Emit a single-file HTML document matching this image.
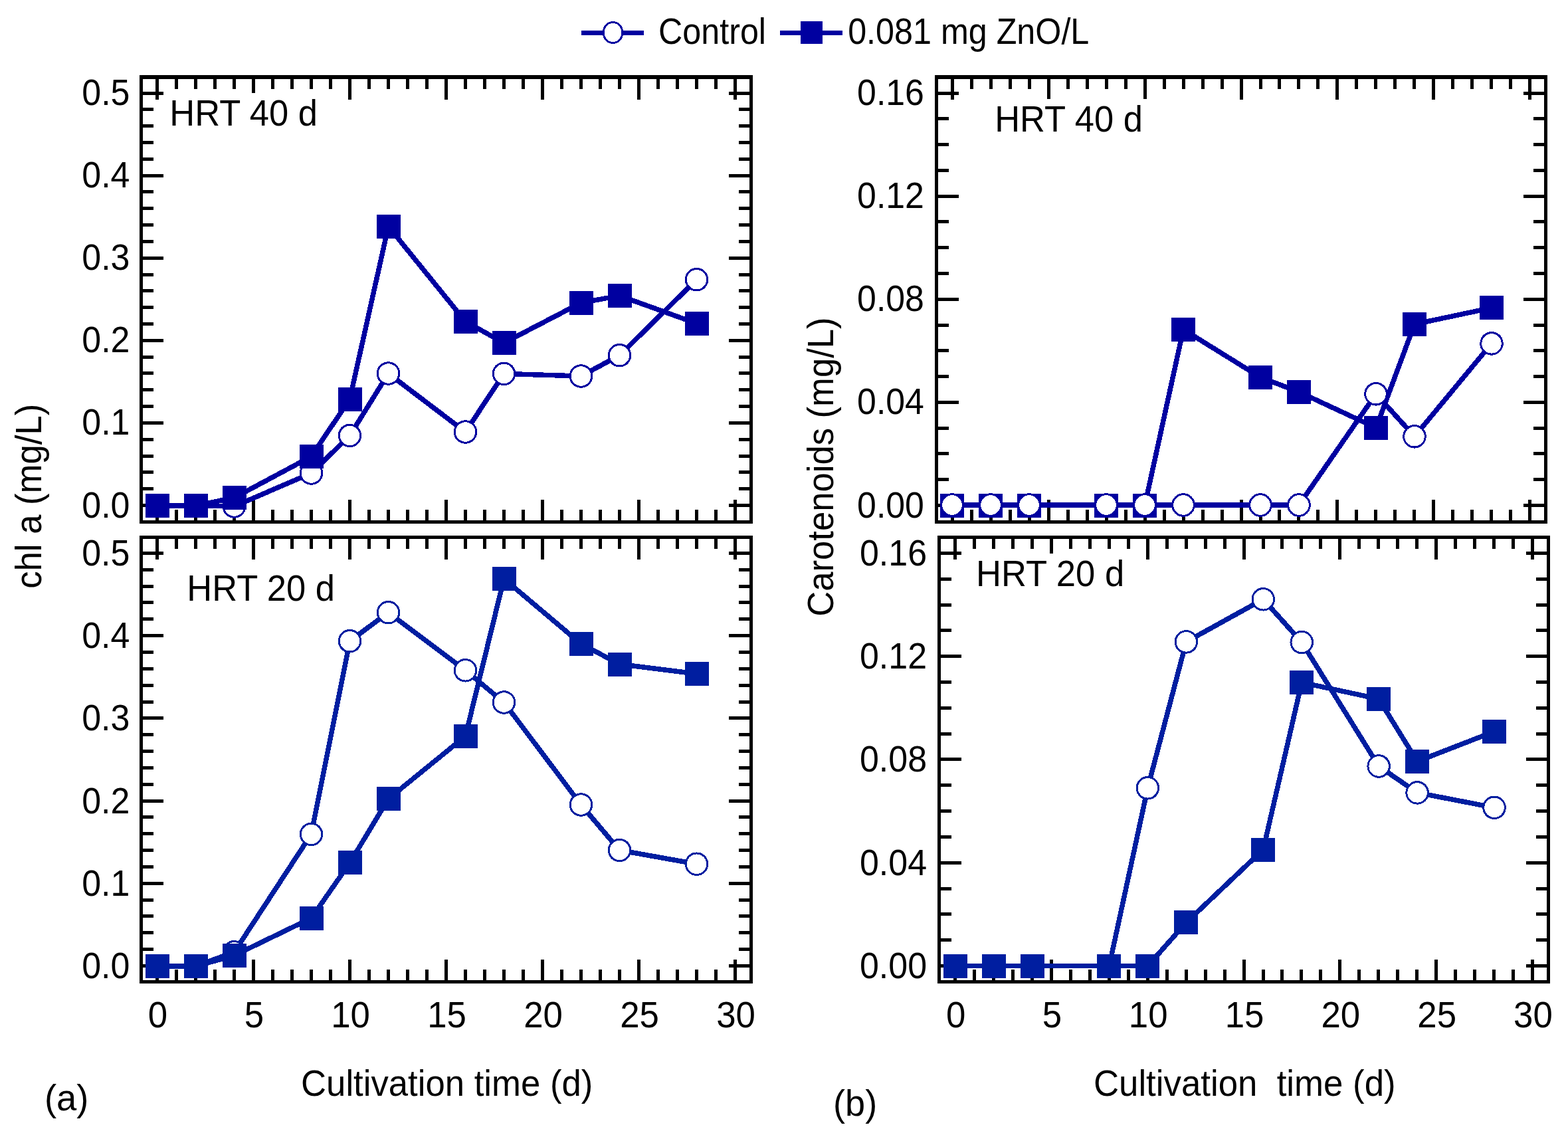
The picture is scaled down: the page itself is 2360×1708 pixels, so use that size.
<!DOCTYPE html>
<html><head><meta charset="utf-8"><title>Chlorophyll a and carotenoids</title>
<style>html,body{margin:0;padding:0;background:#fff;width:2360px;height:1708px;overflow:hidden}
svg{display:block} text{font-family:"Liberation Sans",Arial,sans-serif;fill:#000}</style></head>
<body><svg width="2360" height="1708" viewBox="0 0 2360 1708" shape-rendering="crispEdges">
<rect width="2360" height="1708" fill="#fff"/>
<rect x="210.00" y="113.00" width="923.00" height="6.00" fill="#000"/>
<rect x="210.00" y="783.00" width="923.00" height="5.00" fill="#000"/>
<rect x="210.00" y="113.00" width="5.00" height="675.00" fill="#000"/>
<rect x="1128.00" y="113.00" width="5.00" height="675.00" fill="#000"/>
<rect x="234.00" y="119.00" width="5.00" height="31.00" fill="#000"/>
<rect x="234.00" y="752.00" width="5.00" height="31.00" fill="#000"/>
<rect x="263.00" y="119.00" width="5.00" height="15.00" fill="#000"/>
<rect x="263.00" y="767.00" width="5.00" height="16.00" fill="#000"/>
<rect x="292.00" y="119.00" width="5.00" height="15.00" fill="#000"/>
<rect x="292.00" y="767.00" width="5.00" height="16.00" fill="#000"/>
<rect x="321.00" y="119.00" width="5.00" height="15.00" fill="#000"/>
<rect x="321.00" y="767.00" width="5.00" height="16.00" fill="#000"/>
<rect x="350.00" y="119.00" width="5.00" height="15.00" fill="#000"/>
<rect x="350.00" y="767.00" width="5.00" height="16.00" fill="#000"/>
<rect x="379.00" y="119.00" width="5.00" height="31.00" fill="#000"/>
<rect x="379.00" y="752.00" width="5.00" height="31.00" fill="#000"/>
<rect x="408.00" y="119.00" width="5.00" height="15.00" fill="#000"/>
<rect x="408.00" y="767.00" width="5.00" height="16.00" fill="#000"/>
<rect x="437.00" y="119.00" width="5.00" height="15.00" fill="#000"/>
<rect x="437.00" y="767.00" width="5.00" height="16.00" fill="#000"/>
<rect x="466.00" y="119.00" width="5.00" height="15.00" fill="#000"/>
<rect x="466.00" y="767.00" width="5.00" height="16.00" fill="#000"/>
<rect x="495.00" y="119.00" width="5.00" height="15.00" fill="#000"/>
<rect x="495.00" y="767.00" width="5.00" height="16.00" fill="#000"/>
<rect x="524.00" y="119.00" width="5.00" height="31.00" fill="#000"/>
<rect x="524.00" y="752.00" width="5.00" height="31.00" fill="#000"/>
<rect x="553.00" y="119.00" width="5.00" height="15.00" fill="#000"/>
<rect x="553.00" y="767.00" width="5.00" height="16.00" fill="#000"/>
<rect x="582.00" y="119.00" width="5.00" height="15.00" fill="#000"/>
<rect x="582.00" y="767.00" width="5.00" height="16.00" fill="#000"/>
<rect x="611.00" y="119.00" width="5.00" height="15.00" fill="#000"/>
<rect x="611.00" y="767.00" width="5.00" height="16.00" fill="#000"/>
<rect x="640.00" y="119.00" width="5.00" height="15.00" fill="#000"/>
<rect x="640.00" y="767.00" width="5.00" height="16.00" fill="#000"/>
<rect x="669.00" y="119.00" width="5.00" height="31.00" fill="#000"/>
<rect x="669.00" y="752.00" width="5.00" height="31.00" fill="#000"/>
<rect x="698.00" y="119.00" width="5.00" height="15.00" fill="#000"/>
<rect x="698.00" y="767.00" width="5.00" height="16.00" fill="#000"/>
<rect x="727.00" y="119.00" width="5.00" height="15.00" fill="#000"/>
<rect x="727.00" y="767.00" width="5.00" height="16.00" fill="#000"/>
<rect x="756.00" y="119.00" width="5.00" height="15.00" fill="#000"/>
<rect x="756.00" y="767.00" width="5.00" height="16.00" fill="#000"/>
<rect x="785.00" y="119.00" width="5.00" height="15.00" fill="#000"/>
<rect x="785.00" y="767.00" width="5.00" height="16.00" fill="#000"/>
<rect x="814.00" y="119.00" width="5.00" height="31.00" fill="#000"/>
<rect x="814.00" y="752.00" width="5.00" height="31.00" fill="#000"/>
<rect x="843.00" y="119.00" width="5.00" height="15.00" fill="#000"/>
<rect x="843.00" y="767.00" width="5.00" height="16.00" fill="#000"/>
<rect x="872.00" y="119.00" width="5.00" height="15.00" fill="#000"/>
<rect x="872.00" y="767.00" width="5.00" height="16.00" fill="#000"/>
<rect x="901.00" y="119.00" width="5.00" height="15.00" fill="#000"/>
<rect x="901.00" y="767.00" width="5.00" height="16.00" fill="#000"/>
<rect x="930.00" y="119.00" width="5.00" height="15.00" fill="#000"/>
<rect x="930.00" y="767.00" width="5.00" height="16.00" fill="#000"/>
<rect x="959.00" y="119.00" width="5.00" height="31.00" fill="#000"/>
<rect x="959.00" y="752.00" width="5.00" height="31.00" fill="#000"/>
<rect x="988.00" y="119.00" width="5.00" height="15.00" fill="#000"/>
<rect x="988.00" y="767.00" width="5.00" height="16.00" fill="#000"/>
<rect x="1017.00" y="119.00" width="5.00" height="15.00" fill="#000"/>
<rect x="1017.00" y="767.00" width="5.00" height="16.00" fill="#000"/>
<rect x="1046.00" y="119.00" width="5.00" height="15.00" fill="#000"/>
<rect x="1046.00" y="767.00" width="5.00" height="16.00" fill="#000"/>
<rect x="1075.00" y="119.00" width="5.00" height="15.00" fill="#000"/>
<rect x="1075.00" y="767.00" width="5.00" height="16.00" fill="#000"/>
<rect x="1104.00" y="119.00" width="5.00" height="31.00" fill="#000"/>
<rect x="1104.00" y="752.00" width="5.00" height="31.00" fill="#000"/>
<rect x="215.00" y="758.00" width="31.00" height="5.00" fill="#000"/>
<rect x="1097.00" y="758.00" width="31.00" height="5.00" fill="#000"/>
<rect x="215.00" y="733.18" width="16.00" height="5.00" fill="#000"/>
<rect x="1112.00" y="733.18" width="16.00" height="5.00" fill="#000"/>
<rect x="215.00" y="708.36" width="16.00" height="5.00" fill="#000"/>
<rect x="1112.00" y="708.36" width="16.00" height="5.00" fill="#000"/>
<rect x="215.00" y="683.54" width="16.00" height="5.00" fill="#000"/>
<rect x="1112.00" y="683.54" width="16.00" height="5.00" fill="#000"/>
<rect x="215.00" y="658.72" width="16.00" height="5.00" fill="#000"/>
<rect x="1112.00" y="658.72" width="16.00" height="5.00" fill="#000"/>
<rect x="215.00" y="633.90" width="31.00" height="5.00" fill="#000"/>
<rect x="1097.00" y="633.90" width="31.00" height="5.00" fill="#000"/>
<rect x="215.00" y="609.08" width="16.00" height="5.00" fill="#000"/>
<rect x="1112.00" y="609.08" width="16.00" height="5.00" fill="#000"/>
<rect x="215.00" y="584.26" width="16.00" height="5.00" fill="#000"/>
<rect x="1112.00" y="584.26" width="16.00" height="5.00" fill="#000"/>
<rect x="215.00" y="559.44" width="16.00" height="5.00" fill="#000"/>
<rect x="1112.00" y="559.44" width="16.00" height="5.00" fill="#000"/>
<rect x="215.00" y="534.62" width="16.00" height="5.00" fill="#000"/>
<rect x="1112.00" y="534.62" width="16.00" height="5.00" fill="#000"/>
<rect x="215.00" y="509.80" width="31.00" height="5.00" fill="#000"/>
<rect x="1097.00" y="509.80" width="31.00" height="5.00" fill="#000"/>
<rect x="215.00" y="484.98" width="16.00" height="5.00" fill="#000"/>
<rect x="1112.00" y="484.98" width="16.00" height="5.00" fill="#000"/>
<rect x="215.00" y="460.16" width="16.00" height="5.00" fill="#000"/>
<rect x="1112.00" y="460.16" width="16.00" height="5.00" fill="#000"/>
<rect x="215.00" y="435.34" width="16.00" height="5.00" fill="#000"/>
<rect x="1112.00" y="435.34" width="16.00" height="5.00" fill="#000"/>
<rect x="215.00" y="410.52" width="16.00" height="5.00" fill="#000"/>
<rect x="1112.00" y="410.52" width="16.00" height="5.00" fill="#000"/>
<rect x="215.00" y="385.70" width="31.00" height="5.00" fill="#000"/>
<rect x="1097.00" y="385.70" width="31.00" height="5.00" fill="#000"/>
<rect x="215.00" y="360.88" width="16.00" height="5.00" fill="#000"/>
<rect x="1112.00" y="360.88" width="16.00" height="5.00" fill="#000"/>
<rect x="215.00" y="336.06" width="16.00" height="5.00" fill="#000"/>
<rect x="1112.00" y="336.06" width="16.00" height="5.00" fill="#000"/>
<rect x="215.00" y="311.24" width="16.00" height="5.00" fill="#000"/>
<rect x="1112.00" y="311.24" width="16.00" height="5.00" fill="#000"/>
<rect x="215.00" y="286.42" width="16.00" height="5.00" fill="#000"/>
<rect x="1112.00" y="286.42" width="16.00" height="5.00" fill="#000"/>
<rect x="215.00" y="261.60" width="31.00" height="5.00" fill="#000"/>
<rect x="1097.00" y="261.60" width="31.00" height="5.00" fill="#000"/>
<rect x="215.00" y="236.78" width="16.00" height="5.00" fill="#000"/>
<rect x="1112.00" y="236.78" width="16.00" height="5.00" fill="#000"/>
<rect x="215.00" y="211.96" width="16.00" height="5.00" fill="#000"/>
<rect x="1112.00" y="211.96" width="16.00" height="5.00" fill="#000"/>
<rect x="215.00" y="187.14" width="16.00" height="5.00" fill="#000"/>
<rect x="1112.00" y="187.14" width="16.00" height="5.00" fill="#000"/>
<rect x="215.00" y="162.32" width="16.00" height="5.00" fill="#000"/>
<rect x="1112.00" y="162.32" width="16.00" height="5.00" fill="#000"/>
<rect x="215.00" y="137.50" width="31.00" height="5.00" fill="#000"/>
<rect x="1097.00" y="137.50" width="31.00" height="5.00" fill="#000"/>
<rect x="210.00" y="806.00" width="923.00" height="5.00" fill="#000"/>
<rect x="210.00" y="1475.00" width="923.00" height="5.00" fill="#000"/>
<rect x="210.00" y="806.00" width="5.00" height="674.00" fill="#000"/>
<rect x="1128.00" y="806.00" width="5.00" height="674.00" fill="#000"/>
<rect x="234.00" y="811.00" width="5.00" height="31.00" fill="#000"/>
<rect x="234.00" y="1444.00" width="5.00" height="31.00" fill="#000"/>
<rect x="263.00" y="811.00" width="5.00" height="15.00" fill="#000"/>
<rect x="263.00" y="1459.00" width="5.00" height="16.00" fill="#000"/>
<rect x="292.00" y="811.00" width="5.00" height="15.00" fill="#000"/>
<rect x="292.00" y="1459.00" width="5.00" height="16.00" fill="#000"/>
<rect x="321.00" y="811.00" width="5.00" height="15.00" fill="#000"/>
<rect x="321.00" y="1459.00" width="5.00" height="16.00" fill="#000"/>
<rect x="350.00" y="811.00" width="5.00" height="15.00" fill="#000"/>
<rect x="350.00" y="1459.00" width="5.00" height="16.00" fill="#000"/>
<rect x="379.00" y="811.00" width="5.00" height="31.00" fill="#000"/>
<rect x="379.00" y="1444.00" width="5.00" height="31.00" fill="#000"/>
<rect x="408.00" y="811.00" width="5.00" height="15.00" fill="#000"/>
<rect x="408.00" y="1459.00" width="5.00" height="16.00" fill="#000"/>
<rect x="437.00" y="811.00" width="5.00" height="15.00" fill="#000"/>
<rect x="437.00" y="1459.00" width="5.00" height="16.00" fill="#000"/>
<rect x="466.00" y="811.00" width="5.00" height="15.00" fill="#000"/>
<rect x="466.00" y="1459.00" width="5.00" height="16.00" fill="#000"/>
<rect x="495.00" y="811.00" width="5.00" height="15.00" fill="#000"/>
<rect x="495.00" y="1459.00" width="5.00" height="16.00" fill="#000"/>
<rect x="524.00" y="811.00" width="5.00" height="31.00" fill="#000"/>
<rect x="524.00" y="1444.00" width="5.00" height="31.00" fill="#000"/>
<rect x="553.00" y="811.00" width="5.00" height="15.00" fill="#000"/>
<rect x="553.00" y="1459.00" width="5.00" height="16.00" fill="#000"/>
<rect x="582.00" y="811.00" width="5.00" height="15.00" fill="#000"/>
<rect x="582.00" y="1459.00" width="5.00" height="16.00" fill="#000"/>
<rect x="611.00" y="811.00" width="5.00" height="15.00" fill="#000"/>
<rect x="611.00" y="1459.00" width="5.00" height="16.00" fill="#000"/>
<rect x="640.00" y="811.00" width="5.00" height="15.00" fill="#000"/>
<rect x="640.00" y="1459.00" width="5.00" height="16.00" fill="#000"/>
<rect x="669.00" y="811.00" width="5.00" height="31.00" fill="#000"/>
<rect x="669.00" y="1444.00" width="5.00" height="31.00" fill="#000"/>
<rect x="698.00" y="811.00" width="5.00" height="15.00" fill="#000"/>
<rect x="698.00" y="1459.00" width="5.00" height="16.00" fill="#000"/>
<rect x="727.00" y="811.00" width="5.00" height="15.00" fill="#000"/>
<rect x="727.00" y="1459.00" width="5.00" height="16.00" fill="#000"/>
<rect x="756.00" y="811.00" width="5.00" height="15.00" fill="#000"/>
<rect x="756.00" y="1459.00" width="5.00" height="16.00" fill="#000"/>
<rect x="785.00" y="811.00" width="5.00" height="15.00" fill="#000"/>
<rect x="785.00" y="1459.00" width="5.00" height="16.00" fill="#000"/>
<rect x="814.00" y="811.00" width="5.00" height="31.00" fill="#000"/>
<rect x="814.00" y="1444.00" width="5.00" height="31.00" fill="#000"/>
<rect x="843.00" y="811.00" width="5.00" height="15.00" fill="#000"/>
<rect x="843.00" y="1459.00" width="5.00" height="16.00" fill="#000"/>
<rect x="872.00" y="811.00" width="5.00" height="15.00" fill="#000"/>
<rect x="872.00" y="1459.00" width="5.00" height="16.00" fill="#000"/>
<rect x="901.00" y="811.00" width="5.00" height="15.00" fill="#000"/>
<rect x="901.00" y="1459.00" width="5.00" height="16.00" fill="#000"/>
<rect x="930.00" y="811.00" width="5.00" height="15.00" fill="#000"/>
<rect x="930.00" y="1459.00" width="5.00" height="16.00" fill="#000"/>
<rect x="959.00" y="811.00" width="5.00" height="31.00" fill="#000"/>
<rect x="959.00" y="1444.00" width="5.00" height="31.00" fill="#000"/>
<rect x="988.00" y="811.00" width="5.00" height="15.00" fill="#000"/>
<rect x="988.00" y="1459.00" width="5.00" height="16.00" fill="#000"/>
<rect x="1017.00" y="811.00" width="5.00" height="15.00" fill="#000"/>
<rect x="1017.00" y="1459.00" width="5.00" height="16.00" fill="#000"/>
<rect x="1046.00" y="811.00" width="5.00" height="15.00" fill="#000"/>
<rect x="1046.00" y="1459.00" width="5.00" height="16.00" fill="#000"/>
<rect x="1075.00" y="811.00" width="5.00" height="15.00" fill="#000"/>
<rect x="1075.00" y="1459.00" width="5.00" height="16.00" fill="#000"/>
<rect x="1104.00" y="811.00" width="5.00" height="31.00" fill="#000"/>
<rect x="1104.00" y="1444.00" width="5.00" height="31.00" fill="#000"/>
<rect x="215.00" y="1451.00" width="31.00" height="5.00" fill="#000"/>
<rect x="1097.00" y="1451.00" width="31.00" height="5.00" fill="#000"/>
<rect x="215.00" y="1426.16" width="16.00" height="5.00" fill="#000"/>
<rect x="1112.00" y="1426.16" width="16.00" height="5.00" fill="#000"/>
<rect x="215.00" y="1401.31" width="16.00" height="5.00" fill="#000"/>
<rect x="1112.00" y="1401.31" width="16.00" height="5.00" fill="#000"/>
<rect x="215.00" y="1376.47" width="16.00" height="5.00" fill="#000"/>
<rect x="1112.00" y="1376.47" width="16.00" height="5.00" fill="#000"/>
<rect x="215.00" y="1351.62" width="16.00" height="5.00" fill="#000"/>
<rect x="1112.00" y="1351.62" width="16.00" height="5.00" fill="#000"/>
<rect x="215.00" y="1326.78" width="31.00" height="5.00" fill="#000"/>
<rect x="1097.00" y="1326.78" width="31.00" height="5.00" fill="#000"/>
<rect x="215.00" y="1301.94" width="16.00" height="5.00" fill="#000"/>
<rect x="1112.00" y="1301.94" width="16.00" height="5.00" fill="#000"/>
<rect x="215.00" y="1277.09" width="16.00" height="5.00" fill="#000"/>
<rect x="1112.00" y="1277.09" width="16.00" height="5.00" fill="#000"/>
<rect x="215.00" y="1252.25" width="16.00" height="5.00" fill="#000"/>
<rect x="1112.00" y="1252.25" width="16.00" height="5.00" fill="#000"/>
<rect x="215.00" y="1227.40" width="16.00" height="5.00" fill="#000"/>
<rect x="1112.00" y="1227.40" width="16.00" height="5.00" fill="#000"/>
<rect x="215.00" y="1202.56" width="31.00" height="5.00" fill="#000"/>
<rect x="1097.00" y="1202.56" width="31.00" height="5.00" fill="#000"/>
<rect x="215.00" y="1177.72" width="16.00" height="5.00" fill="#000"/>
<rect x="1112.00" y="1177.72" width="16.00" height="5.00" fill="#000"/>
<rect x="215.00" y="1152.87" width="16.00" height="5.00" fill="#000"/>
<rect x="1112.00" y="1152.87" width="16.00" height="5.00" fill="#000"/>
<rect x="215.00" y="1128.03" width="16.00" height="5.00" fill="#000"/>
<rect x="1112.00" y="1128.03" width="16.00" height="5.00" fill="#000"/>
<rect x="215.00" y="1103.18" width="16.00" height="5.00" fill="#000"/>
<rect x="1112.00" y="1103.18" width="16.00" height="5.00" fill="#000"/>
<rect x="215.00" y="1078.34" width="31.00" height="5.00" fill="#000"/>
<rect x="1097.00" y="1078.34" width="31.00" height="5.00" fill="#000"/>
<rect x="215.00" y="1053.50" width="16.00" height="5.00" fill="#000"/>
<rect x="1112.00" y="1053.50" width="16.00" height="5.00" fill="#000"/>
<rect x="215.00" y="1028.65" width="16.00" height="5.00" fill="#000"/>
<rect x="1112.00" y="1028.65" width="16.00" height="5.00" fill="#000"/>
<rect x="215.00" y="1003.81" width="16.00" height="5.00" fill="#000"/>
<rect x="1112.00" y="1003.81" width="16.00" height="5.00" fill="#000"/>
<rect x="215.00" y="978.96" width="16.00" height="5.00" fill="#000"/>
<rect x="1112.00" y="978.96" width="16.00" height="5.00" fill="#000"/>
<rect x="215.00" y="954.12" width="31.00" height="5.00" fill="#000"/>
<rect x="1097.00" y="954.12" width="31.00" height="5.00" fill="#000"/>
<rect x="215.00" y="929.28" width="16.00" height="5.00" fill="#000"/>
<rect x="1112.00" y="929.28" width="16.00" height="5.00" fill="#000"/>
<rect x="215.00" y="904.43" width="16.00" height="5.00" fill="#000"/>
<rect x="1112.00" y="904.43" width="16.00" height="5.00" fill="#000"/>
<rect x="215.00" y="879.59" width="16.00" height="5.00" fill="#000"/>
<rect x="1112.00" y="879.59" width="16.00" height="5.00" fill="#000"/>
<rect x="215.00" y="854.74" width="16.00" height="5.00" fill="#000"/>
<rect x="1112.00" y="854.74" width="16.00" height="5.00" fill="#000"/>
<rect x="215.00" y="829.90" width="31.00" height="5.00" fill="#000"/>
<rect x="1097.00" y="829.90" width="31.00" height="5.00" fill="#000"/>
<rect x="1407.00" y="113.00" width="922.00" height="6.00" fill="#000"/>
<rect x="1407.00" y="783.00" width="922.00" height="5.00" fill="#000"/>
<rect x="1407.00" y="113.00" width="5.00" height="675.00" fill="#000"/>
<rect x="2324.00" y="113.00" width="5.00" height="675.00" fill="#000"/>
<rect x="1431.00" y="119.00" width="5.00" height="31.00" fill="#000"/>
<rect x="1431.00" y="752.00" width="5.00" height="31.00" fill="#000"/>
<rect x="1459.97" y="119.00" width="5.00" height="15.00" fill="#000"/>
<rect x="1459.97" y="767.00" width="5.00" height="16.00" fill="#000"/>
<rect x="1488.94" y="119.00" width="5.00" height="15.00" fill="#000"/>
<rect x="1488.94" y="767.00" width="5.00" height="16.00" fill="#000"/>
<rect x="1517.91" y="119.00" width="5.00" height="15.00" fill="#000"/>
<rect x="1517.91" y="767.00" width="5.00" height="16.00" fill="#000"/>
<rect x="1546.88" y="119.00" width="5.00" height="15.00" fill="#000"/>
<rect x="1546.88" y="767.00" width="5.00" height="16.00" fill="#000"/>
<rect x="1575.85" y="119.00" width="5.00" height="31.00" fill="#000"/>
<rect x="1575.85" y="752.00" width="5.00" height="31.00" fill="#000"/>
<rect x="1604.82" y="119.00" width="5.00" height="15.00" fill="#000"/>
<rect x="1604.82" y="767.00" width="5.00" height="16.00" fill="#000"/>
<rect x="1633.79" y="119.00" width="5.00" height="15.00" fill="#000"/>
<rect x="1633.79" y="767.00" width="5.00" height="16.00" fill="#000"/>
<rect x="1662.76" y="119.00" width="5.00" height="15.00" fill="#000"/>
<rect x="1662.76" y="767.00" width="5.00" height="16.00" fill="#000"/>
<rect x="1691.73" y="119.00" width="5.00" height="15.00" fill="#000"/>
<rect x="1691.73" y="767.00" width="5.00" height="16.00" fill="#000"/>
<rect x="1720.70" y="119.00" width="5.00" height="31.00" fill="#000"/>
<rect x="1720.70" y="752.00" width="5.00" height="31.00" fill="#000"/>
<rect x="1749.67" y="119.00" width="5.00" height="15.00" fill="#000"/>
<rect x="1749.67" y="767.00" width="5.00" height="16.00" fill="#000"/>
<rect x="1778.64" y="119.00" width="5.00" height="15.00" fill="#000"/>
<rect x="1778.64" y="767.00" width="5.00" height="16.00" fill="#000"/>
<rect x="1807.61" y="119.00" width="5.00" height="15.00" fill="#000"/>
<rect x="1807.61" y="767.00" width="5.00" height="16.00" fill="#000"/>
<rect x="1836.58" y="119.00" width="5.00" height="15.00" fill="#000"/>
<rect x="1836.58" y="767.00" width="5.00" height="16.00" fill="#000"/>
<rect x="1865.55" y="119.00" width="5.00" height="31.00" fill="#000"/>
<rect x="1865.55" y="752.00" width="5.00" height="31.00" fill="#000"/>
<rect x="1894.52" y="119.00" width="5.00" height="15.00" fill="#000"/>
<rect x="1894.52" y="767.00" width="5.00" height="16.00" fill="#000"/>
<rect x="1923.49" y="119.00" width="5.00" height="15.00" fill="#000"/>
<rect x="1923.49" y="767.00" width="5.00" height="16.00" fill="#000"/>
<rect x="1952.46" y="119.00" width="5.00" height="15.00" fill="#000"/>
<rect x="1952.46" y="767.00" width="5.00" height="16.00" fill="#000"/>
<rect x="1981.43" y="119.00" width="5.00" height="15.00" fill="#000"/>
<rect x="1981.43" y="767.00" width="5.00" height="16.00" fill="#000"/>
<rect x="2010.40" y="119.00" width="5.00" height="31.00" fill="#000"/>
<rect x="2010.40" y="752.00" width="5.00" height="31.00" fill="#000"/>
<rect x="2039.37" y="119.00" width="5.00" height="15.00" fill="#000"/>
<rect x="2039.37" y="767.00" width="5.00" height="16.00" fill="#000"/>
<rect x="2068.34" y="119.00" width="5.00" height="15.00" fill="#000"/>
<rect x="2068.34" y="767.00" width="5.00" height="16.00" fill="#000"/>
<rect x="2097.31" y="119.00" width="5.00" height="15.00" fill="#000"/>
<rect x="2097.31" y="767.00" width="5.00" height="16.00" fill="#000"/>
<rect x="2126.28" y="119.00" width="5.00" height="15.00" fill="#000"/>
<rect x="2126.28" y="767.00" width="5.00" height="16.00" fill="#000"/>
<rect x="2155.25" y="119.00" width="5.00" height="31.00" fill="#000"/>
<rect x="2155.25" y="752.00" width="5.00" height="31.00" fill="#000"/>
<rect x="2184.22" y="119.00" width="5.00" height="15.00" fill="#000"/>
<rect x="2184.22" y="767.00" width="5.00" height="16.00" fill="#000"/>
<rect x="2213.19" y="119.00" width="5.00" height="15.00" fill="#000"/>
<rect x="2213.19" y="767.00" width="5.00" height="16.00" fill="#000"/>
<rect x="2242.16" y="119.00" width="5.00" height="15.00" fill="#000"/>
<rect x="2242.16" y="767.00" width="5.00" height="16.00" fill="#000"/>
<rect x="2271.13" y="119.00" width="5.00" height="15.00" fill="#000"/>
<rect x="2271.13" y="767.00" width="5.00" height="16.00" fill="#000"/>
<rect x="2300.10" y="119.00" width="5.00" height="31.00" fill="#000"/>
<rect x="2300.10" y="752.00" width="5.00" height="31.00" fill="#000"/>
<rect x="1412.00" y="758.00" width="31.00" height="5.00" fill="#000"/>
<rect x="2293.00" y="758.00" width="31.00" height="5.00" fill="#000"/>
<rect x="1412.00" y="719.22" width="16.00" height="5.00" fill="#000"/>
<rect x="2308.00" y="719.22" width="16.00" height="5.00" fill="#000"/>
<rect x="1412.00" y="680.44" width="16.00" height="5.00" fill="#000"/>
<rect x="2308.00" y="680.44" width="16.00" height="5.00" fill="#000"/>
<rect x="1412.00" y="641.66" width="16.00" height="5.00" fill="#000"/>
<rect x="2308.00" y="641.66" width="16.00" height="5.00" fill="#000"/>
<rect x="1412.00" y="602.88" width="31.00" height="5.00" fill="#000"/>
<rect x="2293.00" y="602.88" width="31.00" height="5.00" fill="#000"/>
<rect x="1412.00" y="564.10" width="16.00" height="5.00" fill="#000"/>
<rect x="2308.00" y="564.10" width="16.00" height="5.00" fill="#000"/>
<rect x="1412.00" y="525.32" width="16.00" height="5.00" fill="#000"/>
<rect x="2308.00" y="525.32" width="16.00" height="5.00" fill="#000"/>
<rect x="1412.00" y="486.54" width="16.00" height="5.00" fill="#000"/>
<rect x="2308.00" y="486.54" width="16.00" height="5.00" fill="#000"/>
<rect x="1412.00" y="447.76" width="31.00" height="5.00" fill="#000"/>
<rect x="2293.00" y="447.76" width="31.00" height="5.00" fill="#000"/>
<rect x="1412.00" y="408.98" width="16.00" height="5.00" fill="#000"/>
<rect x="2308.00" y="408.98" width="16.00" height="5.00" fill="#000"/>
<rect x="1412.00" y="370.20" width="16.00" height="5.00" fill="#000"/>
<rect x="2308.00" y="370.20" width="16.00" height="5.00" fill="#000"/>
<rect x="1412.00" y="331.42" width="16.00" height="5.00" fill="#000"/>
<rect x="2308.00" y="331.42" width="16.00" height="5.00" fill="#000"/>
<rect x="1412.00" y="292.64" width="31.00" height="5.00" fill="#000"/>
<rect x="2293.00" y="292.64" width="31.00" height="5.00" fill="#000"/>
<rect x="1412.00" y="253.86" width="16.00" height="5.00" fill="#000"/>
<rect x="2308.00" y="253.86" width="16.00" height="5.00" fill="#000"/>
<rect x="1412.00" y="215.08" width="16.00" height="5.00" fill="#000"/>
<rect x="2308.00" y="215.08" width="16.00" height="5.00" fill="#000"/>
<rect x="1412.00" y="176.30" width="16.00" height="5.00" fill="#000"/>
<rect x="2308.00" y="176.30" width="16.00" height="5.00" fill="#000"/>
<rect x="1412.00" y="137.52" width="31.00" height="5.00" fill="#000"/>
<rect x="2293.00" y="137.52" width="31.00" height="5.00" fill="#000"/>
<rect x="1411.00" y="806.00" width="922.00" height="5.00" fill="#000"/>
<rect x="1411.00" y="1475.00" width="922.00" height="5.00" fill="#000"/>
<rect x="1411.00" y="806.00" width="5.00" height="674.00" fill="#000"/>
<rect x="2328.00" y="806.00" width="5.00" height="674.00" fill="#000"/>
<rect x="1435.10" y="811.00" width="5.00" height="31.00" fill="#000"/>
<rect x="1435.10" y="1444.00" width="5.00" height="31.00" fill="#000"/>
<rect x="1464.06" y="811.00" width="5.00" height="15.00" fill="#000"/>
<rect x="1464.06" y="1459.00" width="5.00" height="16.00" fill="#000"/>
<rect x="1493.03" y="811.00" width="5.00" height="15.00" fill="#000"/>
<rect x="1493.03" y="1459.00" width="5.00" height="16.00" fill="#000"/>
<rect x="1521.99" y="811.00" width="5.00" height="15.00" fill="#000"/>
<rect x="1521.99" y="1459.00" width="5.00" height="16.00" fill="#000"/>
<rect x="1550.95" y="811.00" width="5.00" height="15.00" fill="#000"/>
<rect x="1550.95" y="1459.00" width="5.00" height="16.00" fill="#000"/>
<rect x="1579.91" y="811.00" width="5.00" height="31.00" fill="#000"/>
<rect x="1579.91" y="1444.00" width="5.00" height="31.00" fill="#000"/>
<rect x="1608.88" y="811.00" width="5.00" height="15.00" fill="#000"/>
<rect x="1608.88" y="1459.00" width="5.00" height="16.00" fill="#000"/>
<rect x="1637.84" y="811.00" width="5.00" height="15.00" fill="#000"/>
<rect x="1637.84" y="1459.00" width="5.00" height="16.00" fill="#000"/>
<rect x="1666.80" y="811.00" width="5.00" height="15.00" fill="#000"/>
<rect x="1666.80" y="1459.00" width="5.00" height="16.00" fill="#000"/>
<rect x="1695.77" y="811.00" width="5.00" height="15.00" fill="#000"/>
<rect x="1695.77" y="1459.00" width="5.00" height="16.00" fill="#000"/>
<rect x="1724.73" y="811.00" width="5.00" height="31.00" fill="#000"/>
<rect x="1724.73" y="1444.00" width="5.00" height="31.00" fill="#000"/>
<rect x="1753.69" y="811.00" width="5.00" height="15.00" fill="#000"/>
<rect x="1753.69" y="1459.00" width="5.00" height="16.00" fill="#000"/>
<rect x="1782.66" y="811.00" width="5.00" height="15.00" fill="#000"/>
<rect x="1782.66" y="1459.00" width="5.00" height="16.00" fill="#000"/>
<rect x="1811.62" y="811.00" width="5.00" height="15.00" fill="#000"/>
<rect x="1811.62" y="1459.00" width="5.00" height="16.00" fill="#000"/>
<rect x="1840.58" y="811.00" width="5.00" height="15.00" fill="#000"/>
<rect x="1840.58" y="1459.00" width="5.00" height="16.00" fill="#000"/>
<rect x="1869.54" y="811.00" width="5.00" height="31.00" fill="#000"/>
<rect x="1869.54" y="1444.00" width="5.00" height="31.00" fill="#000"/>
<rect x="1898.51" y="811.00" width="5.00" height="15.00" fill="#000"/>
<rect x="1898.51" y="1459.00" width="5.00" height="16.00" fill="#000"/>
<rect x="1927.47" y="811.00" width="5.00" height="15.00" fill="#000"/>
<rect x="1927.47" y="1459.00" width="5.00" height="16.00" fill="#000"/>
<rect x="1956.43" y="811.00" width="5.00" height="15.00" fill="#000"/>
<rect x="1956.43" y="1459.00" width="5.00" height="16.00" fill="#000"/>
<rect x="1985.40" y="811.00" width="5.00" height="15.00" fill="#000"/>
<rect x="1985.40" y="1459.00" width="5.00" height="16.00" fill="#000"/>
<rect x="2014.36" y="811.00" width="5.00" height="31.00" fill="#000"/>
<rect x="2014.36" y="1444.00" width="5.00" height="31.00" fill="#000"/>
<rect x="2043.32" y="811.00" width="5.00" height="15.00" fill="#000"/>
<rect x="2043.32" y="1459.00" width="5.00" height="16.00" fill="#000"/>
<rect x="2072.29" y="811.00" width="5.00" height="15.00" fill="#000"/>
<rect x="2072.29" y="1459.00" width="5.00" height="16.00" fill="#000"/>
<rect x="2101.25" y="811.00" width="5.00" height="15.00" fill="#000"/>
<rect x="2101.25" y="1459.00" width="5.00" height="16.00" fill="#000"/>
<rect x="2130.21" y="811.00" width="5.00" height="15.00" fill="#000"/>
<rect x="2130.21" y="1459.00" width="5.00" height="16.00" fill="#000"/>
<rect x="2159.18" y="811.00" width="5.00" height="31.00" fill="#000"/>
<rect x="2159.18" y="1444.00" width="5.00" height="31.00" fill="#000"/>
<rect x="2188.14" y="811.00" width="5.00" height="15.00" fill="#000"/>
<rect x="2188.14" y="1459.00" width="5.00" height="16.00" fill="#000"/>
<rect x="2217.10" y="811.00" width="5.00" height="15.00" fill="#000"/>
<rect x="2217.10" y="1459.00" width="5.00" height="16.00" fill="#000"/>
<rect x="2246.06" y="811.00" width="5.00" height="15.00" fill="#000"/>
<rect x="2246.06" y="1459.00" width="5.00" height="16.00" fill="#000"/>
<rect x="2275.03" y="811.00" width="5.00" height="15.00" fill="#000"/>
<rect x="2275.03" y="1459.00" width="5.00" height="16.00" fill="#000"/>
<rect x="2303.99" y="811.00" width="5.00" height="31.00" fill="#000"/>
<rect x="2303.99" y="1444.00" width="5.00" height="31.00" fill="#000"/>
<rect x="1416.00" y="1451.00" width="31.00" height="5.00" fill="#000"/>
<rect x="2297.00" y="1451.00" width="31.00" height="5.00" fill="#000"/>
<rect x="1416.00" y="1412.18" width="16.00" height="5.00" fill="#000"/>
<rect x="2312.00" y="1412.18" width="16.00" height="5.00" fill="#000"/>
<rect x="1416.00" y="1373.36" width="16.00" height="5.00" fill="#000"/>
<rect x="2312.00" y="1373.36" width="16.00" height="5.00" fill="#000"/>
<rect x="1416.00" y="1334.54" width="16.00" height="5.00" fill="#000"/>
<rect x="2312.00" y="1334.54" width="16.00" height="5.00" fill="#000"/>
<rect x="1416.00" y="1295.72" width="31.00" height="5.00" fill="#000"/>
<rect x="2297.00" y="1295.72" width="31.00" height="5.00" fill="#000"/>
<rect x="1416.00" y="1256.90" width="16.00" height="5.00" fill="#000"/>
<rect x="2312.00" y="1256.90" width="16.00" height="5.00" fill="#000"/>
<rect x="1416.00" y="1218.08" width="16.00" height="5.00" fill="#000"/>
<rect x="2312.00" y="1218.08" width="16.00" height="5.00" fill="#000"/>
<rect x="1416.00" y="1179.26" width="16.00" height="5.00" fill="#000"/>
<rect x="2312.00" y="1179.26" width="16.00" height="5.00" fill="#000"/>
<rect x="1416.00" y="1140.44" width="31.00" height="5.00" fill="#000"/>
<rect x="2297.00" y="1140.44" width="31.00" height="5.00" fill="#000"/>
<rect x="1416.00" y="1101.62" width="16.00" height="5.00" fill="#000"/>
<rect x="2312.00" y="1101.62" width="16.00" height="5.00" fill="#000"/>
<rect x="1416.00" y="1062.80" width="16.00" height="5.00" fill="#000"/>
<rect x="2312.00" y="1062.80" width="16.00" height="5.00" fill="#000"/>
<rect x="1416.00" y="1023.98" width="16.00" height="5.00" fill="#000"/>
<rect x="2312.00" y="1023.98" width="16.00" height="5.00" fill="#000"/>
<rect x="1416.00" y="985.16" width="31.00" height="5.00" fill="#000"/>
<rect x="2297.00" y="985.16" width="31.00" height="5.00" fill="#000"/>
<rect x="1416.00" y="946.34" width="16.00" height="5.00" fill="#000"/>
<rect x="2312.00" y="946.34" width="16.00" height="5.00" fill="#000"/>
<rect x="1416.00" y="907.52" width="16.00" height="5.00" fill="#000"/>
<rect x="2312.00" y="907.52" width="16.00" height="5.00" fill="#000"/>
<rect x="1416.00" y="868.70" width="16.00" height="5.00" fill="#000"/>
<rect x="2312.00" y="868.70" width="16.00" height="5.00" fill="#000"/>
<rect x="1416.00" y="829.88" width="31.00" height="5.00" fill="#000"/>
<rect x="2297.00" y="829.88" width="31.00" height="5.00" fill="#000"/>
<rect x="250.00" y="139.70" width="236.00" height="60.30" fill="#fff"/>
<rect x="1492.00" y="148.70" width="236.00" height="60.30" fill="#fff"/>
<rect x="276.00" y="854.50" width="236.00" height="60.50" fill="#fff"/>
<rect x="1464.00" y="832.60" width="236.00" height="60.40" fill="#fff"/>
<polyline points="236.50,761.00 294.50,761.00 352.50,762.00 468.50,712.00 526.50,655.50 584.50,562.00 700.50,650.00 758.50,562.40 874.50,566.00 932.50,534.70 1048.50,420.70" fill="none" stroke="#0000A0" stroke-width="7.5" stroke-linejoin="miter" stroke-linecap="butt"/>
<circle cx="236.50" cy="761.00" r="16.25" fill="#fff" stroke="#0000A0" stroke-width="3.0"/><circle cx="294.50" cy="761.00" r="16.25" fill="#fff" stroke="#0000A0" stroke-width="3.0"/><circle cx="352.50" cy="762.00" r="16.25" fill="#fff" stroke="#0000A0" stroke-width="3.0"/><circle cx="468.50" cy="712.00" r="16.25" fill="#fff" stroke="#0000A0" stroke-width="3.0"/><circle cx="526.50" cy="655.50" r="16.25" fill="#fff" stroke="#0000A0" stroke-width="3.0"/><circle cx="584.50" cy="562.00" r="16.25" fill="#fff" stroke="#0000A0" stroke-width="3.0"/><circle cx="700.50" cy="650.00" r="16.25" fill="#fff" stroke="#0000A0" stroke-width="3.0"/><circle cx="758.50" cy="562.40" r="16.25" fill="#fff" stroke="#0000A0" stroke-width="3.0"/><circle cx="874.50" cy="566.00" r="16.25" fill="#fff" stroke="#0000A0" stroke-width="3.0"/><circle cx="932.50" cy="534.70" r="16.25" fill="#fff" stroke="#0000A0" stroke-width="3.0"/><circle cx="1048.50" cy="420.70" r="16.25" fill="#fff" stroke="#0000A0" stroke-width="3.0"/>
<polyline points="236.50,761.00 294.50,761.00 352.50,749.00 468.50,687.00 526.50,600.50 584.50,340.70 700.50,483.80 758.50,516.00 874.50,455.70 932.50,445.00 1048.50,486.80" fill="none" stroke="#0000A0" stroke-width="7.5" stroke-linejoin="miter" stroke-linecap="butt"/>
<rect x="218.50" y="743.00" width="36" height="36" fill="#0000A0"/><rect x="276.50" y="743.00" width="36" height="36" fill="#0000A0"/><rect x="334.50" y="731.00" width="36" height="36" fill="#0000A0"/><rect x="450.50" y="669.00" width="36" height="36" fill="#0000A0"/><rect x="508.50" y="582.50" width="36" height="36" fill="#0000A0"/><rect x="566.50" y="322.70" width="36" height="36" fill="#0000A0"/><rect x="682.50" y="465.80" width="36" height="36" fill="#0000A0"/><rect x="740.50" y="498.00" width="36" height="36" fill="#0000A0"/><rect x="856.50" y="437.70" width="36" height="36" fill="#0000A0"/><rect x="914.50" y="427.00" width="36" height="36" fill="#0000A0"/><rect x="1030.50" y="468.80" width="36" height="36" fill="#0000A0"/>
<polyline points="236.50,1454.00 294.50,1454.00 352.50,1432.80 468.50,1255.40 526.50,964.70 584.50,921.70 700.50,1008.80 758.50,1057.00 874.50,1211.00 932.50,1279.50 1048.50,1300.20" fill="none" stroke="#001EA0" stroke-width="7.5" stroke-linejoin="miter" stroke-linecap="butt"/>
<circle cx="236.50" cy="1454.00" r="16.25" fill="#fff" stroke="#001EA0" stroke-width="3.0"/><circle cx="294.50" cy="1454.00" r="16.25" fill="#fff" stroke="#001EA0" stroke-width="3.0"/><circle cx="352.50" cy="1432.80" r="16.25" fill="#fff" stroke="#001EA0" stroke-width="3.0"/><circle cx="468.50" cy="1255.40" r="16.25" fill="#fff" stroke="#001EA0" stroke-width="3.0"/><circle cx="526.50" cy="964.70" r="16.25" fill="#fff" stroke="#001EA0" stroke-width="3.0"/><circle cx="584.50" cy="921.70" r="16.25" fill="#fff" stroke="#001EA0" stroke-width="3.0"/><circle cx="700.50" cy="1008.80" r="16.25" fill="#fff" stroke="#001EA0" stroke-width="3.0"/><circle cx="758.50" cy="1057.00" r="16.25" fill="#fff" stroke="#001EA0" stroke-width="3.0"/><circle cx="874.50" cy="1211.00" r="16.25" fill="#fff" stroke="#001EA0" stroke-width="3.0"/><circle cx="932.50" cy="1279.50" r="16.25" fill="#fff" stroke="#001EA0" stroke-width="3.0"/><circle cx="1048.50" cy="1300.20" r="16.25" fill="#fff" stroke="#001EA0" stroke-width="3.0"/>
<polyline points="236.50,1454.00 294.50,1454.00 352.50,1437.80 468.50,1381.70 526.50,1298.40 584.50,1202.20 700.50,1107.80 758.50,871.00 874.50,968.90 932.50,999.50 1048.50,1014.00" fill="none" stroke="#001EA0" stroke-width="7.5" stroke-linejoin="miter" stroke-linecap="butt"/>
<rect x="218.50" y="1436.00" width="36" height="36" fill="#001EA0"/><rect x="276.50" y="1436.00" width="36" height="36" fill="#001EA0"/><rect x="334.50" y="1419.80" width="36" height="36" fill="#001EA0"/><rect x="450.50" y="1363.70" width="36" height="36" fill="#001EA0"/><rect x="508.50" y="1280.40" width="36" height="36" fill="#001EA0"/><rect x="566.50" y="1184.20" width="36" height="36" fill="#001EA0"/><rect x="682.50" y="1089.80" width="36" height="36" fill="#001EA0"/><rect x="740.50" y="853.00" width="36" height="36" fill="#001EA0"/><rect x="856.50" y="950.90" width="36" height="36" fill="#001EA0"/><rect x="914.50" y="981.50" width="36" height="36" fill="#001EA0"/><rect x="1030.50" y="996.00" width="36" height="36" fill="#001EA0"/>
<polyline points="1433.00,760.70 1491.00,760.70 1549.00,760.70 1665.00,760.70 1723.00,760.70 1781.00,495.80 1897.00,567.80 1955.00,589.80 2071.00,643.80 2129.00,487.90 2245.00,463.30" fill="none" stroke="#0000A0" stroke-width="7.5" stroke-linejoin="miter" stroke-linecap="butt"/>
<rect x="1415.00" y="742.70" width="36" height="36" fill="#0000A0"/><rect x="1473.00" y="742.70" width="36" height="36" fill="#0000A0"/><rect x="1531.00" y="742.70" width="36" height="36" fill="#0000A0"/><rect x="1647.00" y="742.70" width="36" height="36" fill="#0000A0"/><rect x="1705.00" y="742.70" width="36" height="36" fill="#0000A0"/><rect x="1763.00" y="477.80" width="36" height="36" fill="#0000A0"/><rect x="1879.00" y="549.80" width="36" height="36" fill="#0000A0"/><rect x="1937.00" y="571.80" width="36" height="36" fill="#0000A0"/><rect x="2053.00" y="625.80" width="36" height="36" fill="#0000A0"/><rect x="2111.00" y="469.90" width="36" height="36" fill="#0000A0"/><rect x="2227.00" y="445.30" width="36" height="36" fill="#0000A0"/>
<polyline points="1433.00,760.00 1491.00,760.00 1549.00,760.00 1665.00,760.00 1723.00,760.00 1781.00,760.00 1897.00,760.00 1955.00,760.00 2071.00,592.80 2129.00,656.80 2245.00,516.90" fill="none" stroke="#0000A0" stroke-width="7.5" stroke-linejoin="miter" stroke-linecap="butt"/>
<circle cx="1433.00" cy="760.00" r="16.25" fill="#fff" stroke="#0000A0" stroke-width="3.0"/><circle cx="1491.00" cy="760.00" r="16.25" fill="#fff" stroke="#0000A0" stroke-width="3.0"/><circle cx="1549.00" cy="760.00" r="16.25" fill="#fff" stroke="#0000A0" stroke-width="3.0"/><circle cx="1665.00" cy="760.00" r="16.25" fill="#fff" stroke="#0000A0" stroke-width="3.0"/><circle cx="1723.00" cy="760.00" r="16.25" fill="#fff" stroke="#0000A0" stroke-width="3.0"/><circle cx="1781.00" cy="760.00" r="16.25" fill="#fff" stroke="#0000A0" stroke-width="3.0"/><circle cx="1897.00" cy="760.00" r="16.25" fill="#fff" stroke="#0000A0" stroke-width="3.0"/><circle cx="1955.00" cy="760.00" r="16.25" fill="#fff" stroke="#0000A0" stroke-width="3.0"/><circle cx="2071.00" cy="592.80" r="16.25" fill="#fff" stroke="#0000A0" stroke-width="3.0"/><circle cx="2129.00" cy="656.80" r="16.25" fill="#fff" stroke="#0000A0" stroke-width="3.0"/><circle cx="2245.00" cy="516.90" r="16.25" fill="#fff" stroke="#0000A0" stroke-width="3.0"/>
<polyline points="1437.60,1453.70 1495.56,1453.70 1553.52,1453.70 1669.44,1453.70 1727.40,1185.80 1785.36,965.90 1901.28,901.80 1959.24,966.50 2075.16,1153.00 2133.12,1192.90 2249.04,1215.30" fill="none" stroke="#001EA0" stroke-width="7.5" stroke-linejoin="miter" stroke-linecap="butt"/>
<circle cx="1437.60" cy="1453.70" r="16.25" fill="#fff" stroke="#001EA0" stroke-width="3.0"/><circle cx="1495.56" cy="1453.70" r="16.25" fill="#fff" stroke="#001EA0" stroke-width="3.0"/><circle cx="1553.52" cy="1453.70" r="16.25" fill="#fff" stroke="#001EA0" stroke-width="3.0"/><circle cx="1669.44" cy="1453.70" r="16.25" fill="#fff" stroke="#001EA0" stroke-width="3.0"/><circle cx="1727.40" cy="1185.80" r="16.25" fill="#fff" stroke="#001EA0" stroke-width="3.0"/><circle cx="1785.36" cy="965.90" r="16.25" fill="#fff" stroke="#001EA0" stroke-width="3.0"/><circle cx="1901.28" cy="901.80" r="16.25" fill="#fff" stroke="#001EA0" stroke-width="3.0"/><circle cx="1959.24" cy="966.50" r="16.25" fill="#fff" stroke="#001EA0" stroke-width="3.0"/><circle cx="2075.16" cy="1153.00" r="16.25" fill="#fff" stroke="#001EA0" stroke-width="3.0"/><circle cx="2133.12" cy="1192.90" r="16.25" fill="#fff" stroke="#001EA0" stroke-width="3.0"/><circle cx="2249.04" cy="1215.30" r="16.25" fill="#fff" stroke="#001EA0" stroke-width="3.0"/>
<polyline points="1437.60,1453.70 1495.56,1453.70 1553.52,1453.70 1669.44,1453.70 1727.40,1453.70 1785.36,1388.30 1901.28,1278.50 1959.24,1027.00 2075.16,1051.90 2133.12,1145.80 2249.04,1100.80" fill="none" stroke="#001EA0" stroke-width="7.5" stroke-linejoin="miter" stroke-linecap="butt"/>
<rect x="1419.60" y="1435.70" width="36" height="36" fill="#001EA0"/><rect x="1477.56" y="1435.70" width="36" height="36" fill="#001EA0"/><rect x="1535.52" y="1435.70" width="36" height="36" fill="#001EA0"/><rect x="1651.44" y="1435.70" width="36" height="36" fill="#001EA0"/><rect x="1709.40" y="1435.70" width="36" height="36" fill="#001EA0"/><rect x="1767.36" y="1370.30" width="36" height="36" fill="#001EA0"/><rect x="1883.28" y="1260.50" width="36" height="36" fill="#001EA0"/><rect x="1941.24" y="1009.00" width="36" height="36" fill="#001EA0"/><rect x="2057.16" y="1033.90" width="36" height="36" fill="#001EA0"/><rect x="2115.12" y="1127.80" width="36" height="36" fill="#001EA0"/><rect x="2231.04" y="1082.80" width="36" height="36" fill="#001EA0"/>
<text x="123.32" y="778.50" font-size="55" text-anchor="start" textLength="72.11" lengthAdjust="spacingAndGlyphs">0.0</text>
<text x="123.32" y="654.40" font-size="55" text-anchor="start" textLength="72.11" lengthAdjust="spacingAndGlyphs">0.1</text>
<text x="123.32" y="530.30" font-size="55" text-anchor="start" textLength="72.11" lengthAdjust="spacingAndGlyphs">0.2</text>
<text x="123.32" y="406.20" font-size="55" text-anchor="start" textLength="72.11" lengthAdjust="spacingAndGlyphs">0.3</text>
<text x="123.32" y="282.10" font-size="55" text-anchor="start" textLength="72.11" lengthAdjust="spacingAndGlyphs">0.4</text>
<text x="123.32" y="158.00" font-size="55" text-anchor="start" textLength="72.11" lengthAdjust="spacingAndGlyphs">0.5</text>
<text x="123.22" y="1472.00" font-size="55" text-anchor="start" textLength="72.11" lengthAdjust="spacingAndGlyphs">0.0</text>
<text x="123.22" y="1347.78" font-size="55" text-anchor="start" textLength="72.11" lengthAdjust="spacingAndGlyphs">0.1</text>
<text x="123.22" y="1223.56" font-size="55" text-anchor="start" textLength="72.11" lengthAdjust="spacingAndGlyphs">0.2</text>
<text x="123.22" y="1099.34" font-size="55" text-anchor="start" textLength="72.11" lengthAdjust="spacingAndGlyphs">0.3</text>
<text x="123.22" y="975.12" font-size="55" text-anchor="start" textLength="72.11" lengthAdjust="spacingAndGlyphs">0.4</text>
<text x="123.22" y="850.90" font-size="55" text-anchor="start" textLength="72.11" lengthAdjust="spacingAndGlyphs">0.5</text>
<text x="1290.09" y="778.50" font-size="55" text-anchor="start" textLength="100.84" lengthAdjust="spacingAndGlyphs">0.00</text>
<text x="1290.09" y="623.38" font-size="55" text-anchor="start" textLength="100.84" lengthAdjust="spacingAndGlyphs">0.04</text>
<text x="1290.09" y="468.26" font-size="55" text-anchor="start" textLength="100.84" lengthAdjust="spacingAndGlyphs">0.08</text>
<text x="1290.09" y="313.14" font-size="55" text-anchor="start" textLength="100.84" lengthAdjust="spacingAndGlyphs">0.12</text>
<text x="1290.09" y="158.02" font-size="55" text-anchor="start" textLength="100.84" lengthAdjust="spacingAndGlyphs">0.16</text>
<text x="1293.98" y="1472.00" font-size="55" text-anchor="start" textLength="101.05" lengthAdjust="spacingAndGlyphs">0.00</text>
<text x="1293.98" y="1316.72" font-size="55" text-anchor="start" textLength="101.05" lengthAdjust="spacingAndGlyphs">0.04</text>
<text x="1293.98" y="1161.44" font-size="55" text-anchor="start" textLength="101.05" lengthAdjust="spacingAndGlyphs">0.08</text>
<text x="1293.98" y="1006.16" font-size="55" text-anchor="start" textLength="101.05" lengthAdjust="spacingAndGlyphs">0.12</text>
<text x="1293.98" y="850.88" font-size="55" text-anchor="start" textLength="101.05" lengthAdjust="spacingAndGlyphs">0.16</text>
<text x="237.50" y="1546.00" font-size="55" text-anchor="middle" textLength="29.37" lengthAdjust="spacingAndGlyphs">0</text>
<text x="382.50" y="1546.00" font-size="55" text-anchor="middle" textLength="29.37" lengthAdjust="spacingAndGlyphs">5</text>
<text x="527.50" y="1546.00" font-size="55" text-anchor="middle" textLength="58.74" lengthAdjust="spacingAndGlyphs">10</text>
<text x="672.50" y="1546.00" font-size="55" text-anchor="middle" textLength="58.74" lengthAdjust="spacingAndGlyphs">15</text>
<text x="817.50" y="1546.00" font-size="55" text-anchor="middle" textLength="58.74" lengthAdjust="spacingAndGlyphs">20</text>
<text x="962.50" y="1546.00" font-size="55" text-anchor="middle" textLength="58.74" lengthAdjust="spacingAndGlyphs">25</text>
<text x="1107.50" y="1546.00" font-size="55" text-anchor="middle" textLength="58.74" lengthAdjust="spacingAndGlyphs">30</text>
<text x="1438.60" y="1546.00" font-size="55" text-anchor="middle" textLength="29.37" lengthAdjust="spacingAndGlyphs">0</text>
<text x="1583.41" y="1546.00" font-size="55" text-anchor="middle" textLength="29.37" lengthAdjust="spacingAndGlyphs">5</text>
<text x="1728.23" y="1546.00" font-size="55" text-anchor="middle" textLength="58.74" lengthAdjust="spacingAndGlyphs">10</text>
<text x="1873.04" y="1546.00" font-size="55" text-anchor="middle" textLength="58.74" lengthAdjust="spacingAndGlyphs">15</text>
<text x="2017.86" y="1546.00" font-size="55" text-anchor="middle" textLength="58.74" lengthAdjust="spacingAndGlyphs">20</text>
<text x="2162.68" y="1546.00" font-size="55" text-anchor="middle" textLength="58.74" lengthAdjust="spacingAndGlyphs">25</text>
<text x="2307.49" y="1546.00" font-size="55" text-anchor="middle" textLength="58.74" lengthAdjust="spacingAndGlyphs">30</text>
<text x="255.29" y="189.00" font-size="55" textLength="222.73" lengthAdjust="spacingAndGlyphs" >HRT 40 d</text>
<text x="1497.23" y="198.00" font-size="55" textLength="222.69" lengthAdjust="spacingAndGlyphs" >HRT 40 d</text>
<text x="281.33" y="904.00" font-size="55" textLength="222.59" lengthAdjust="spacingAndGlyphs" >HRT 20 d</text>
<text x="1469.02" y="882.00" font-size="55" textLength="223.21" lengthAdjust="spacingAndGlyphs" >HRT 20 d</text>
<text transform="translate(62.00,885.82) rotate(-90)" x="0" y="0" font-size="55" textLength="278.05" lengthAdjust="spacingAndGlyphs">chl a (mg/L)</text>
<text transform="translate(1254.00,927.67) rotate(-90)" x="0" y="0" font-size="55" textLength="450.26" lengthAdjust="spacingAndGlyphs">Carotenoids (mg/L)</text>
<text x="453.03" y="1649.00" font-size="55" textLength="439.31" lengthAdjust="spacingAndGlyphs" >Cultivation time (d)</text>
<text x="1645.92" y="1649.00" font-size="55" textLength="454.69" lengthAdjust="spacingAndGlyphs" >Cultivation  time (d)</text>
<text x="66.93" y="1671.00" font-size="55" textLength="66.46" lengthAdjust="spacingAndGlyphs" >(a)</text>
<text x="1254.05" y="1679.00" font-size="55" textLength="66.13" lengthAdjust="spacingAndGlyphs" >(b)</text>
<rect x="875.00" y="46.00" width="94.00" height="7.00" fill="#0000A0"/>
<ellipse cx="922.5" cy="49" rx="14.3" ry="15.6" fill="#fff" stroke="#0000A0" stroke-width="2.8"/>
<text x="991.06" y="66.00" font-size="55" textLength="161.97" lengthAdjust="spacingAndGlyphs" >Control</text>
<rect x="1174.00" y="46.00" width="94.00" height="7.00" fill="#0000A0"/>
<rect x="1205.00" y="32.00" width="33.00" height="34.00" fill="#0000A0"/>
<text x="1276.17" y="66.00" font-size="55" textLength="363.14" lengthAdjust="spacingAndGlyphs" >0.081 mg ZnO/L</text>
</svg></body></html>
